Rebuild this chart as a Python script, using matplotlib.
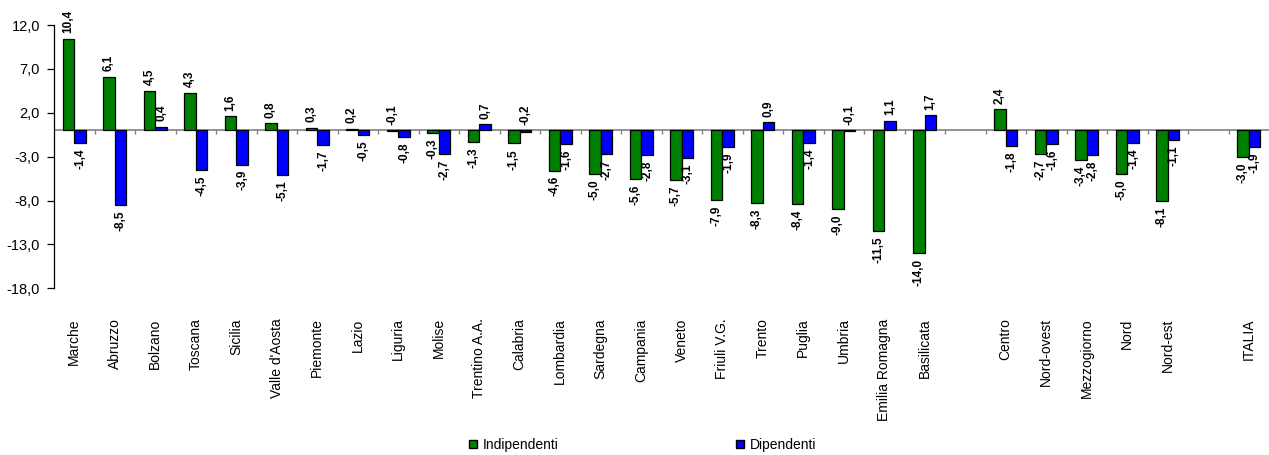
import matplotlib
matplotlib.use("Agg")
import matplotlib.pyplot as plt
from matplotlib.patches import Patch
import numpy as np

plt.rcParams["font.family"] = ["Liberation Sans", "DejaVu Sans"]

regions = ["Marche", "Abruzzo", "Bolzano", "Toscana", "Sicilia", "Valle d'Aosta",
           "Piemonte", "Lazio", "Liguria", "Molise", "Trentino A.A.", "Calabria",
           "Lombardia", "Sardegna", "Campania", "Veneto", "Friuli V.G.", "Trento",
           "Puglia", "Umbria", "Emilia Romagna", "Basilicata"]
reg_indip = [10.4, 6.1, 4.5, 4.3, 1.6, 0.8, 0.3, 0.2, -0.1, -0.3, -1.3, -1.5,
             -4.6, -5.0, -5.6, -5.7, -7.9, -8.3, -8.4, -9.0, -11.5, -14.0]
reg_dip = [-1.4, -8.5, 0.4, -4.5, -3.9, -5.1, -1.7, -0.5, -0.8, -2.7, 0.7, -0.2,
           -1.6, -2.7, -2.8, -3.1, -1.9, 0.9, -1.4, -0.1, 1.1, 1.7]

macro = ["Centro", "Nord-ovest", "Mezzogiorno", "Nord", "Nord-est"]
macro_indip = [2.4, -2.7, -3.4, -5.0, -8.1]
macro_dip = [-1.8, -1.6, -2.8, -1.4, -1.1]

italia = ["ITALIA"]
italia_indip = [-3.0]
italia_dip = [-1.9]

yticks = [12, 7, 2, -3, -8, -13, -18]

GREEN = "#008000"
BLUE = "#0000FF"

# positions with one empty slot between groups
groups = [(regions, reg_indip, reg_dip), (macro, macro_indip, macro_dip),
          (italia, italia_indip, italia_dip)]
labels, indip, dip, pos = [], [], [], []
start = 0
for names_g, a, b in groups:
    labels += names_g
    indip += a
    dip += b
    pos += list(range(start, start + len(names_g)))
    start += len(names_g) + 1
pos = np.array(pos, dtype=float)
last = pos[-1]

fig = plt.figure(figsize=(12.69, 4.55), dpi=100)
ax = fig.add_axes([54 / 1269, 1 - 288.3 / 455, 1 - 54 / 1269, (288.3 - 25) / 455])

w = 0.29
ax.bar(pos - w / 2, indip, w, color=GREEN, edgecolor="black", linewidth=0.9, zorder=2)
ax.bar(pos + w / 2, dip, w, color=BLUE, edgecolor="black", linewidth=0.9, zorder=2)

def fmt(v):
    return f"{v:.1f}".replace(".", ",")

for x, v in zip(list(pos - w / 2) + list(pos + w / 2), indip + dip):
    up = v >= -0.2
    ax.annotate(fmt(v), (x, max(v, 0) if up else v), xytext=(0, 4 if up else -4),
                textcoords="offset points", rotation=90, ha="center",
                va="bottom" if up else "top", fontsize=8.5, fontweight="bold",
                annotation_clip=False)

ax.set_xlim(-0.5, last + 0.5)
ax.set_ylim(-18, 12)
ax.axhline(0, color="#808080", lw=1.2, zorder=1)
ax.vlines(np.arange(0.5, last + 0.5, 1.0), -0.45, 0, color="#808080", lw=1.0)

ax.set_yticks(yticks)
ax.set_yticklabels([fmt(t) for t in yticks], fontsize=10.5)
ax.tick_params(axis="y", length=5, width=0.9, pad=5, direction="out")

ax.set_xticks(pos)
ax.set_xticklabels(labels, rotation=90, fontsize=10, va="top", ha="center")
ax.tick_params(axis="x", length=0, pad=21.6)

for s in ["top", "right", "bottom"]:
    ax.spines[s].set_visible(False)
ax.spines["left"].set_color("black")
ax.spines["left"].set_linewidth(0.9)

for name, col, x0 in [("Indipendenti", GREEN, 469), ("Dipendenti", BLUE, 736)]:
    fig.legend(handles=[Patch(facecolor=col, edgecolor="black", label=name)],
               loc="center left", bbox_to_anchor=(x0 / 1269, 1 - 445 / 455),
               frameon=False, fontsize=10, borderpad=0, borderaxespad=0,
               handlelength=0.55, handleheight=0.55, handletextpad=0.45)

fig.savefig("out.png", dpi=100)
